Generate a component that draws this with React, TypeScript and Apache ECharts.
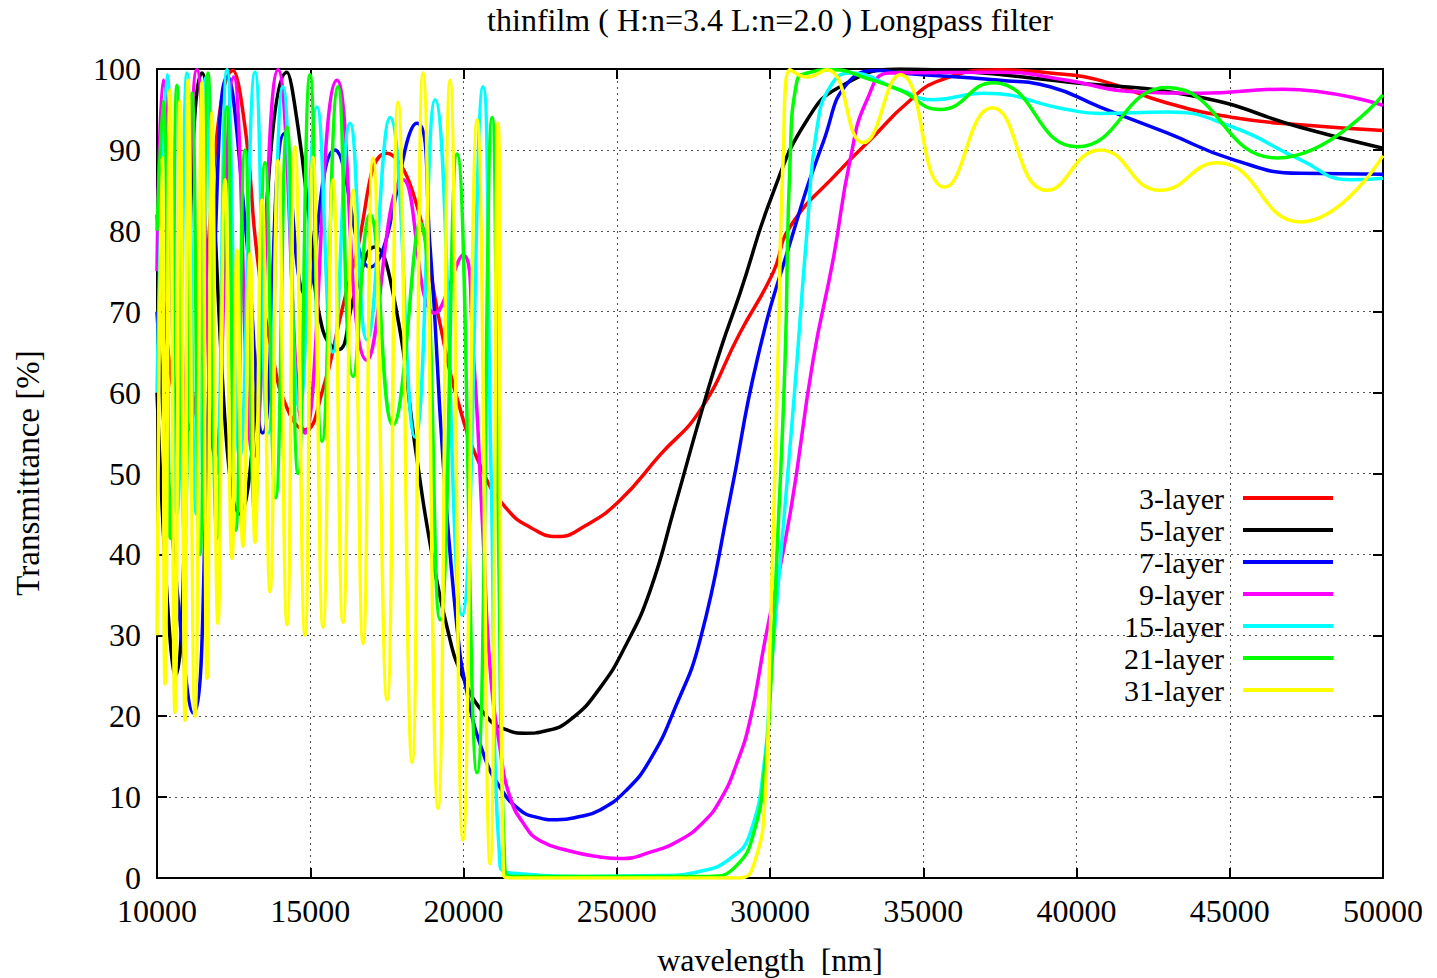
import React, { useEffect, useRef } from 'react';
import * as echarts from 'echarts';

const TITLE = 'thinfilm ( H:n=3.4 L:n=2.0 ) Longpass filter';
const X_NAME = 'wavelength  [nm]';
const Y_NAME = 'Transmittance [%]';

const seriesNames = ['3-layer', '5-layer', '7-layer', '9-layer', '15-layer', '21-layer', '31-layer'];
const seriesColors = ['#ff0000', '#000000', '#0000ff', '#ff00ff', '#00ffff', '#00ff00', '#ffff00'];

// [wavelength nm, transmittance %]
const layer3 = [
  [10000, 82], [10900, 55], [12480, 99.8], [12900, 92], [13250, 77.5], [13752, 65], [14274, 57.8],
  [14829, 55.4], [15384, 60], [16036, 70.2], [16395, 75.5], [17505, 89.6], [18353, 84.7], [19234, 68.5],
  [19789, 59.3], [20637, 50.2], [21420, 45.6], [22200, 43.3], [23050, 42.2], [24000, 43.6], [25108, 46.7],
  [26413, 52.3], [27718, 57.8], [29023, 67.4], [30100, 74.8], [30655, 80.5], [32286, 87.5], [33363, 91.6],
  [34473, 95.8], [35549, 98.6], [37507, 99.9], [39139, 99.5], [40770, 98.6], [42956, 95.8], [45110, 94],
  [47296, 93.1], [50000, 92.4],
];

const layer5 = [
  [10000, 60], [10600, 25], [11468, 99.5], [12700, 45], [14242, 99.6], [14601, 92.8], [14992, 80.5],
  [15384, 68.1], [15906, 65.3], [16461, 72.3], [17100, 78], [17700, 72.3], [18484, 51.7], [18908, 41.4],
  [19463, 31], [19985, 24.8], [20768, 19.9], [21420, 18.3], [22008, 17.9], [22700, 18.2], [23500, 19.6],
  [24455, 23.5], [25300, 28.8], [26086, 35.5], [26900, 46], [27718, 57], [28400, 65.5], [29023, 72.3],
  [30100, 84.7], [31210, 93.7], [32286, 97.8], [34244, 100], [35321, 99.9], [39693, 98.4], [44033, 96.5],
  [47296, 92.8], [50000, 90.2],
];

const layer7 = [
  [10000, 70], [10600, 38], [11175, 20.4], [11800, 70], [12300, 99], [12900, 80], [13450, 55],
  [14150, 92], [14850, 72], [15800, 90], [16950, 75.5], [18480, 93.3], [18908, 78], [19332, 51.7],
  [19789, 31], [20115, 22.9], [20637, 15.5], [21192, 11.2], [21845, 8.4], [22400, 7.5], [23052, 7.2],
  [23800, 7.6], [24455, 8.4], [25300, 10.8], [26086, 14.6], [26900, 21], [27718, 29.4], [28700, 47],
  [29578, 64], [30655, 78.5], [31731, 90.9], [32612, 98.6], [33591, 99.8], [34244, 99.5], [37507, 98.6],
  [39139, 97.8], [40770, 95.3], [42956, 92.1], [45110, 88.8], [47296, 87.1], [50000, 87],
];

const layer9 = [
  [10000, 75], [10200, 98.6], [10750, 50], [11300, 99.9], [11900, 52], [12500, 99], [13150, 52],
  [13950, 99.9], [14830, 55], [15873, 98.6], [16850, 64], [18027, 86.3], [19071, 69.8], [19985, 77],
  [20311, 65.3], [20637, 42.4], [20866, 26], [21192, 16], [21518, 10], [22000, 6.5], [22497, 4.6],
  [23500, 3.3], [24455, 2.6], [25108, 2.4], [26100, 3.2], [27066, 4.7], [27800, 6.8], [28371, 9.6],
  [28900, 14], [29350, 19.5], [29839, 29.4], [30655, 45], [31405, 64], [32058, 76.4], [32612, 88.7],
  [33167, 96.2], [33918, 99.5], [37507, 99.6], [39693, 98.6], [41847, 97.2], [44033, 97], [46741, 97.5],
  [50000, 95.5],
];

const layer15 = [
  [10000, 60], [10326, 99.3], [10650, 45], [10979, 99.5], [11280, 45], [11600, 99], [11950, 50],
  [12284, 99.9], [12700, 52], [13198, 99.6], [13630, 55], [14111, 97.8], [14650, 58], [15220, 95.3],
  [15740, 65], [16298, 93.3], [16852, 66.5], [17603, 94], [18419, 54.5], [19071, 96.2], [19952, 32.5],
  [20637, 97.8], [20900, 50], [21192, 1.5], [21943, 0.5], [24000, 0.2], [26500, 0.3], [27700, 0.8],
  [28697, 2.4], [29350, 5.5], [29839, 15], [30000, 24], [30400, 42], [30800, 60], [31210, 80],
  [31537, 92.8], [31960, 97.8], [32600, 99.5], [34244, 97.4], [35321, 96.2], [36952, 97], [39693, 95],
  [40770, 94.5], [42956, 94.7], [45110, 92.8], [47296, 88.8], [48928, 86.3], [50000, 86.5],
];

const layer21 = [
  [10000, 80], [10200, 96], [10430, 42], [10650, 98], [10900, 42], [11142, 97], [11400, 40],
  [11664, 99.5], [11960, 42], [12284, 95.3], [12570, 43], [12871, 90], [13190, 45], [13524, 88.4],
  [13870, 47], [14242, 92.8], [14600, 50], [14992, 99.3], [15384, 54], [15906, 97.8], [16400, 62],
  [16950, 82], [17700, 56], [18582, 81], [19234, 31.9], [19789, 89.5], [20442, 13], [20931, 94],
  [21150, 40], [21350, 1], [21600, 0.2], [28000, 0.2], [28900, 1.5], [29500, 6], [29839, 14],
  [30000, 22], [30250, 42], [30492, 64], [30655, 88.7], [30883, 98.6], [31210, 99.5], [32058, 99.9],
  [33200, 98.8], [34244, 97.4], [35549, 95], [37280, 98.3], [40020, 90.4], [42956, 97.7], [46546, 89],
  [50000, 96.8],
];

const layer31 = [
  [10000, 30], [10163, 89], [10261, 24], [10424, 97.4], [10587, 20.5], [10750, 96], [10914, 19.5],
  [11012, 98.6], [11240, 20], [11468, 98.3], [11632, 24.7], [11795, 94.6], [11990, 31.5], [12219, 86.3],
  [12447, 39.5], [12610, 77.6], [12806, 41], [13035, 77.2], [13198, 41.5], [13426, 83.8], [13687, 35.4],
  [13948, 88.7], [14242, 31.3], [14503, 90.4], [14829, 30], [15090, 89.1], [15417, 31], [15743, 86.3],
  [16069, 31.6], [16395, 85], [16722, 29], [17048, 89], [17505, 22], [17864, 95.9], [18321, 14.3],
  [18680, 99.5], [19169, 8.6], [19561, 98.6], [19985, 4.7], [20442, 93.7], [20866, 1.8], [21127, 93.3],
  [21300, 0.5], [21600, 0], [29000, 0], [29500, 2], [29839, 10], [30000, 29], [30260, 64], [30427, 88.7],
  [30655, 99.9], [31200, 99], [31860, 99.9], [33040, 90.9], [34250, 99.3], [35700, 85.4], [37250, 95.2],
  [39040, 85], [40770, 90], [42730, 85], [44590, 88.4], [47300, 81.1], [50000, 89.3],
];

const seriesData = [layer3, layer5, layer7, layer9, layer15, layer21, layer31];

const FONT = "'Liberation Serif', 'DejaVu Serif', serif";
const FS = 32;

export default function App() {
  const ref = useRef<HTMLDivElement>(null);
  useEffect(() => {
    if (!ref.current) return;
    const chart = echarts.init(ref.current, undefined, { renderer: 'svg' });
    const gridLeft = 157, gridRight = 1383, gridTop = 69, gridBottom = 878;

    const axisCommon = {
      type: 'value' as const,
      axisLine: { show: true, onZero: false, lineStyle: { color: '#000', width: 2 } },
      axisTick: { show: true, inside: true, length: 10, lineStyle: { color: '#000', width: 2 } },
    };

    const legendItems: any[] = [
      { type: 'rect', shape: { x: 1075, y: 484, width: 273, height: 222 }, style: { fill: '#fff' }, silent: true },
    ];
    seriesNames.forEach((name, i) => {
      const y = 498 + i * 32;
      legendItems.push({
        type: 'text', x: 1224, y,
        style: {
          text: name, fontFamily: FONT, fontSize: 30, lineHeight: 30, fill: '#000',
          align: 'right', verticalAlign: 'middle',
        },
      });
      legendItems.push({
        type: 'line', shape: { x1: 1243, y1: y, x2: 1333, y2: y },
        style: { stroke: seriesColors[i], lineWidth: 4 },
      });
    });

    const option: any = {
      animation: false,
      backgroundColor: '#ffffff',
      grid: { left: gridLeft, top: gridTop, width: gridRight - gridLeft, height: gridBottom - gridTop, containLabel: false },
      xAxis: [
        {
          ...axisCommon, position: 'bottom', min: 10000, max: 50000, interval: 5000,
          axisLabel: {
            show: true, fontFamily: FONT, fontSize: FS, color: '#000', margin: 17,
            showMinLabel: true, showMaxLabel: true, formatter: (v: number) => String(v),
          },
          splitLine: { show: true, lineStyle: { color: '#555', width: 1, type: [2, 4] } },
        },
        {
          ...axisCommon, position: 'top', min: 10000, max: 50000, interval: 5000,
          axisLabel: { show: false }, splitLine: { show: false },
        },
      ],
      yAxis: [
        {
          ...axisCommon, position: 'left', min: 0, max: 100, interval: 10,
          axisLabel: {
            show: true, fontFamily: FONT, fontSize: FS, color: '#000', margin: 16,
            showMinLabel: true, showMaxLabel: true, formatter: (v: number) => String(v),
          },
          splitLine: { show: true, lineStyle: { color: '#555', width: 1, type: [2, 4] } },
        },
        {
          ...axisCommon, position: 'right', min: 0, max: 100, interval: 10,
          axisLabel: { show: false }, splitLine: { show: false },
        },
      ],
      graphic: [
        {
          type: 'group', z: 1, children: [
            {
              type: 'text', x: 770, y: 20,
              style: { text: TITLE, fontFamily: FONT, fontSize: FS, fill: '#000', align: 'center', verticalAlign: 'middle' },
            },
            {
              type: 'text', x: 770, y: 960,
              style: { text: X_NAME, fontFamily: FONT, fontSize: FS, fill: '#000', align: 'center', verticalAlign: 'middle' },
            },
            {
              type: 'text', x: 28, y: 473, rotation: Math.PI / 2,
              style: { text: Y_NAME, fontFamily: FONT, fontSize: 33, fill: '#000', align: 'center', verticalAlign: 'middle' },
            },
            ...legendItems,
          ],
        },
      ],
      series: seriesData.map((data, i) => ({
        type: 'line',
        name: seriesNames[i],
        data,
        xAxisIndex: 0,
        yAxisIndex: 0,
        showSymbol: false,
        smooth: 0.5,
        clip: true,
        silent: true,
        z: 2,
        lineStyle: { color: seriesColors[i], width: 3.5 },
        itemStyle: { color: seriesColors[i] },
      })),
    };
    chart.setOption(option);
    return () => chart.dispose();
  }, []);

  return <div ref={ref} style={{ position: 'absolute', left: 0, top: 0, width: 1437, height: 978, background: '#fff' }} />;
}
